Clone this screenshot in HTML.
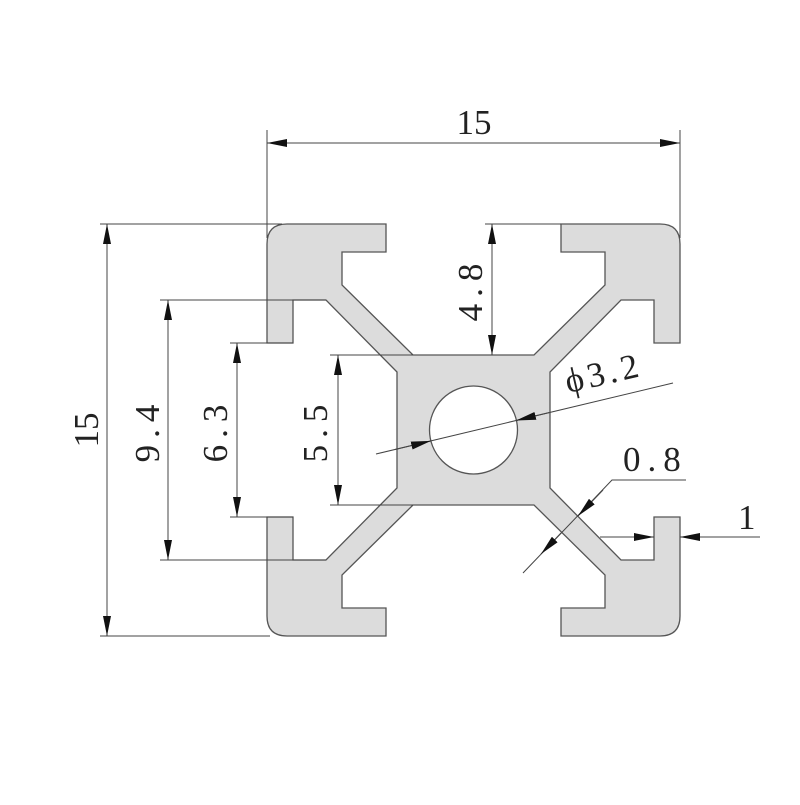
<!DOCTYPE html>
<html><head><meta charset="utf-8"><style>
html,body{margin:0;padding:0;background:#fff;}
svg text{font-family:"Liberation Serif",serif;fill:#222;}
</style></head><body>
<svg width="800" height="800" viewBox="0 0 800 800" xmlns="http://www.w3.org/2000/svg">
<defs>
<marker id="a" viewBox="0 0 20 8" refX="20" refY="4" markerWidth="20" markerHeight="8" markerUnits="userSpaceOnUse" orient="auto-start-reverse"><path d="M0,0 L20,4 L0,8 Z" fill="#111"/></marker>
</defs>
<path d="M397,372 L326,300 L293,300 L293,343 L267,343 L267,244 Q267,224 287,224 L386,224 L386,252 L342,252 L342,285 L413,355 L534,355 L605,285 L605,252 L561,252 L561,224 L660,224 Q680,224 680,244 L680,343 L654,343 L654,300 L621,300 L550,372 L550,488 L621,560 L654,560 L654,517 L680,517 L680,616 Q680,636 660,636 L561,636 L561,608 L605,608 L605,575 L534,505 L413,505 L342,575 L342,608 L386,608 L386,636 L287,636 Q267,636 267,616 L267,517 L293,517 L293,560 L326,560 L397,488 Z" fill="#dcdcdc" stroke="#555" stroke-width="1.3"/>
<circle cx="473.5" cy="430" r="44" fill="#fff" stroke="#555" stroke-width="1.3"/>
<g stroke="#444" stroke-width="1" fill="none">
<line x1="267" y1="130" x2="267" y2="238"/><line x1="680" y1="130" x2="680" y2="238"/>
<line x1="267" y1="143" x2="680" y2="143" marker-start="url(#a)" marker-end="url(#a)"/>
<line x1="100" y1="224" x2="282" y2="224"/><line x1="100" y1="636" x2="270" y2="636"/>
<line x1="107" y1="224" x2="107" y2="636" marker-start="url(#a)" marker-end="url(#a)"/>
<line x1="160" y1="300" x2="326" y2="300"/><line x1="160" y1="560" x2="326" y2="560"/>
<line x1="168" y1="300" x2="168" y2="560" marker-start="url(#a)" marker-end="url(#a)"/>
<line x1="230" y1="343" x2="293" y2="343"/><line x1="230" y1="517" x2="293" y2="517"/>
<line x1="237" y1="343" x2="237" y2="517" marker-start="url(#a)" marker-end="url(#a)"/>
<line x1="330" y1="355" x2="413" y2="355"/><line x1="330" y1="505" x2="413" y2="505"/>
<line x1="338" y1="355" x2="338" y2="505" marker-start="url(#a)" marker-end="url(#a)"/>
<line x1="485" y1="224" x2="561" y2="224"/>
<line x1="492" y1="224" x2="492" y2="355" marker-start="url(#a)" marker-end="url(#a)"/>
<line x1="376" y1="454" x2="673" y2="383"/>
<line x1="395" y1="449.5" x2="431" y2="440.9" marker-end="url(#a)"/>
<line x1="549" y1="412.6" x2="516" y2="420.5" marker-end="url(#a)"/>
<polyline points="523,573 612,480 686,480"/>
<line x1="603" y1="490" x2="578" y2="516" marker-end="url(#a)"/>
<line x1="541" y1="554" x2="561" y2="533" marker-start="url(#a)"/>
<line x1="600" y1="537" x2="654" y2="537" marker-end="url(#a)"/>
<line x1="760" y1="537" x2="680" y2="537" marker-end="url(#a)"/>
</g>
<g font-size="35">
<text x="474" y="134" text-anchor="middle">15</text>
<text transform="translate(98,430) rotate(-90)" text-anchor="middle">15</text>
<text transform="translate(159,430) rotate(-90)" text-anchor="middle" letter-spacing="7">9.4</text>
<text transform="translate(227,430) rotate(-90)" text-anchor="middle" letter-spacing="7">6.3</text>
<text transform="translate(327,430) rotate(-90)" text-anchor="middle" letter-spacing="7">5.5</text>
<text transform="translate(482,289) rotate(-90)" text-anchor="middle" letter-spacing="7">4.8</text>
<text transform="translate(568,393) rotate(-13)" letter-spacing="4">ϕ3.2</text>
<text x="623" y="471" letter-spacing="7">0.8</text>
<text x="738" y="529">1</text>
</g>
</svg>
</body></html>
